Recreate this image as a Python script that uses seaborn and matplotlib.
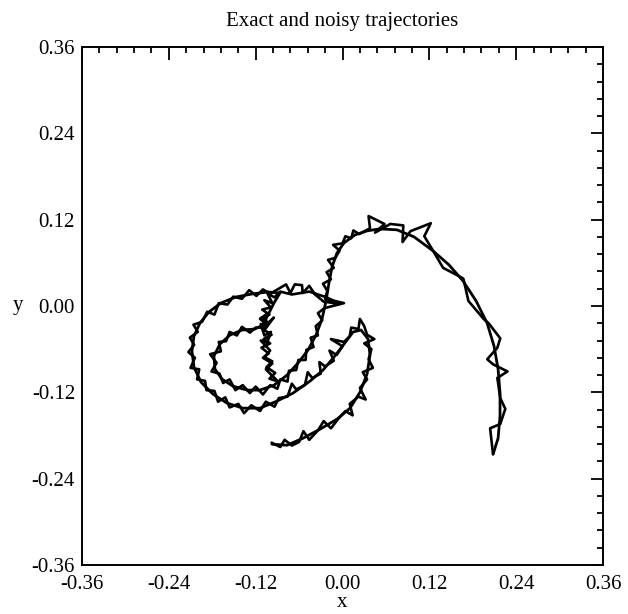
import matplotlib
matplotlib.use("Agg")
import matplotlib.pyplot as plt
import seaborn as sns
from matplotlib.ticker import MultipleLocator

# exact trajectory
exact_x = [-0.0975, -0.0767, -0.0546, -0.0311, -0.0076, 0.0104, 0.0242, 0.0339, 0.0380, 0.0353,
           0.0256, 0.0145, 0.0021, -0.0118, -0.0270, -0.0449, -0.0684, -0.0906, -0.1141, -0.1376,
           -0.1597, -0.1790, -0.1956, -0.2053, -0.2081, -0.2053, -0.1970, -0.1846, -0.1680, -0.1472,
           -0.1251, -0.1030, -0.0864, -0.0947, -0.1030, -0.1099, -0.1210, -0.1389, -0.1555, -0.1694,
           -0.1777, -0.1763, -0.1666, -0.1514, -0.1320, -0.1141, -0.0947, -0.0767, -0.0615, -0.0477,
           -0.0366, -0.0283, -0.0228, -0.0187, -0.0145, -0.0076, 0.0021, 0.0173, 0.0339, 0.0518,
           0.0753, 0.0988, 0.1251, 0.1472, 0.1666, 0.1846, 0.1998, 0.2094, 0.2150, 0.2177,
           0.2177, 0.2150, 0.2081]
exact_y = [-0.1921, -0.1935, -0.1838, -0.1712, -0.1573, -0.1420, -0.1197, -0.0947, -0.0682, -0.0459,
           -0.0334, -0.0362, -0.0529, -0.0710, -0.0891, -0.1044, -0.1211, -0.1322, -0.1420, -0.1420,
           -0.1350, -0.1225, -0.1058, -0.0849, -0.0626, -0.0418, -0.0237, -0.0084, 0.0042, 0.0125,
           0.0167, 0.0195, 0.0181, 0.0042, -0.0125, -0.0264, -0.0320, -0.0334, -0.0404, -0.0529,
           -0.0696, -0.0877, -0.1016, -0.1114, -0.1169, -0.1169, -0.1100, -0.0961, -0.0793, -0.0613,
           -0.0404, -0.0181, 0.0070, 0.0320, 0.0543, 0.0738, 0.0877, 0.0988, 0.1044, 0.1072,
           0.1058, 0.0961, 0.0766, 0.0571, 0.0348, 0.0070, -0.0237, -0.0557, -0.0877, -0.1211,
           -0.1531, -0.1838, -0.2060]

# noisy trajectory
noisy_x = [-0.098, -0.086, -0.080, -0.070, -0.060, -0.054, -0.046, -0.034, -0.026, -0.016,
           -0.006, 0.004, 0.014, 0.010, 0.022, 0.032, 0.024, 0.034, 0.028, 0.042,
           0.036, 0.040, 0.030, 0.044, 0.034, 0.030, 0.024, 0.022, 0.012, 0.010,
           0.002, -0.016, 0.000, -0.008, -0.018, -0.012, -0.024, -0.032, -0.030, -0.042,
           -0.048, -0.052, -0.064, -0.070, -0.076, -0.088, -0.094, -0.106, -0.114,
           -0.126, -0.136, -0.144, -0.156, -0.162, -0.172, -0.177, -0.188, -0.190, -0.201,
           -0.198, -0.210, -0.204, -0.213, -0.205, -0.211, -0.200, -0.206, -0.194, -0.187,
           -0.177, -0.171, -0.159, -0.151, -0.139, -0.129, -0.119, -0.110, -0.100,
           -0.088, -0.078, -0.072, -0.066, -0.056, -0.055, -0.046, -0.038, -0.026, -0.004,
           -0.022, -0.046, -0.070, -0.086,
           -0.094, -0.104, -0.097, -0.108, -0.099, -0.111, -0.101, -0.113, -0.102, -0.095,
           -0.106, -0.113, -0.108, -0.099, -0.104, -0.113, -0.100, -0.108, -0.097, -0.105,
           -0.093, -0.101, -0.089, -0.099, -0.106, -0.097, -0.110, -0.102, -0.112, -0.100,
           -0.109, -0.098, -0.110, -0.104, -0.114, -0.106, -0.110,
           -0.120, -0.128, -0.139, -0.146, -0.156, -0.161, -0.171, -0.168, -0.183, -0.174,
           -0.181, -0.170, -0.165, -0.156, -0.148, -0.138, -0.128, -0.120, -0.110, -0.100,
           -0.090, -0.086, -0.076, -0.074, -0.064, -0.061, -0.051, -0.050, -0.040, -0.044,
           -0.034, -0.037, -0.028, -0.034, -0.025, 0.002, -0.024,
           -0.021, -0.027, -0.016, -0.022, -0.012, -0.020, -0.010, -0.004, -0.013, 0.000,
           0.004, 0.012, 0.015, 0.023, 0.038, 0.036, 0.058, 0.045, 0.066, 0.084,
           0.083, 0.094, 0.122, 0.113, 0.125, 0.139, 0.160, 0.167, 0.174, 0.195,
           0.202, 0.218, 0.214, 0.200, 0.208, 0.228, 0.214, 0.218, 0.225, 0.218,
           0.204, 0.208]
noisy_y = [-0.190, -0.196, -0.186, -0.194, -0.189, -0.174, -0.186, -0.173, -0.160, -0.170,
           -0.157, -0.146, -0.152, -0.136, -0.126, -0.130, -0.114, -0.102, -0.092, -0.086,
           -0.074, -0.060, -0.052, -0.046, -0.040, -0.028, -0.018, -0.032, -0.030, -0.042,
           -0.050, -0.046, -0.056, -0.068, -0.062, -0.076, -0.084, -0.078, -0.094, -0.100,
           -0.092, -0.110, -0.116, -0.108, -0.126, -0.128, -0.140, -0.133, -0.146,
           -0.138, -0.149, -0.136, -0.141, -0.127, -0.133, -0.118, -0.117, -0.104, -0.102,
           -0.088, -0.086, -0.072, -0.064, -0.054, -0.044, -0.036, -0.026, -0.022, -0.008,
           -0.012, 0.004, 0.002, 0.013, 0.010, 0.022, 0.014, 0.023, 0.017,
           0.024, 0.030, 0.018, 0.030, 0.029, 0.018, 0.028, 0.016, 0.006, 0.003,
           0.012, 0.020, 0.016, 0.020,
           0.012, 0.018, 0.004, 0.008, -0.002, -0.005, -0.012, -0.017, -0.023, -0.016,
           -0.031, -0.025, -0.041, -0.036, -0.051, -0.048, -0.062, -0.071, -0.077, -0.085,
           -0.093, -0.101, -0.105, -0.095, -0.088, -0.080, -0.072, -0.066, -0.058, -0.052,
           -0.046, -0.040, -0.032, -0.026, -0.018, -0.012, -0.030,
           -0.030, -0.037, -0.029, -0.041, -0.036, -0.049, -0.050, -0.063, -0.067, -0.079,
           -0.091, -0.094, -0.107, -0.102, -0.117, -0.110, -0.121, -0.112, -0.123, -0.110,
           -0.115, -0.102, -0.105, -0.090, -0.089, -0.075, -0.075, -0.061, -0.057, -0.044,
           -0.041, -0.028, -0.020, -0.010, -0.003, 0.004, 0.010,
           0.021, 0.031, 0.037, 0.047, 0.053, 0.064, 0.067, 0.077, 0.085, 0.087,
           0.097, 0.094, 0.105, 0.100, 0.108, 0.125, 0.114, 0.102, 0.114, 0.112,
           0.089, 0.104, 0.115, 0.097, 0.077, 0.053, 0.042, 0.038, 0.007, -0.018,
           -0.024, -0.045, -0.058, -0.074, -0.081, -0.091, -0.100, -0.128, -0.143, -0.164,
           -0.170, -0.206]

ticks = [-0.36, -0.24, -0.12, 0.00, 0.12, 0.24, 0.36]

sns.set_theme(style="white")
plt.rcParams['font.family'] = ['Liberation Serif', 'DejaVu Serif']

fig = plt.figure(figsize=(6.28, 6.14), dpi=100)
ax = fig.add_axes([0.1306, 0.0798, 0.8296, 0.8437])

sns.lineplot(x=exact_x, y=exact_y, sort=False, estimator=None, color='black', lw=2.0, ax=ax)
sns.lineplot(x=noisy_x, y=noisy_y, sort=False, estimator=None, color='black', lw=1.9, ax=ax)

ax.set_xlim(-0.36, 0.36)
ax.set_ylim(-0.36, 0.36)
ax.set_xticks(ticks)
ax.set_yticks(ticks)
ax.set_xticklabels([f"{t:.2f}" for t in ticks])
ax.set_yticklabels([f"{t:.2f}" for t in ticks])
ax.xaxis.set_minor_locator(MultipleLocator(0.024))
ax.yaxis.set_minor_locator(MultipleLocator(0.024))
ax.tick_params(which='both', direction='in', top=True, right=True, color='black', width=1.3)
ax.tick_params(which='major', length=9, labelsize=15, labelcolor='black')
ax.tick_params(axis='x', which='major', pad=7)
ax.tick_params(axis='y', which='major', pad=5)
ax.tick_params(which='minor', length=4.5)
for s in ax.spines.values():
    s.set_color('black')
    s.set_linewidth(1.4)

ax.set_title("Exact and noisy trajectories", fontsize=15, pad=15, color='black')
ax.set_xlabel("x", fontsize=15, color='black')
ax.set_ylabel("y", fontsize=15, rotation=0, color='black')
ax.xaxis.set_label_coords(0.5, -0.072)
ax.yaxis.set_label_coords(-0.123, 0.5)
ax.yaxis.label.set_va('center')
ax.xaxis.label.set_va('center')

fig.savefig("out.png", dpi=100)
